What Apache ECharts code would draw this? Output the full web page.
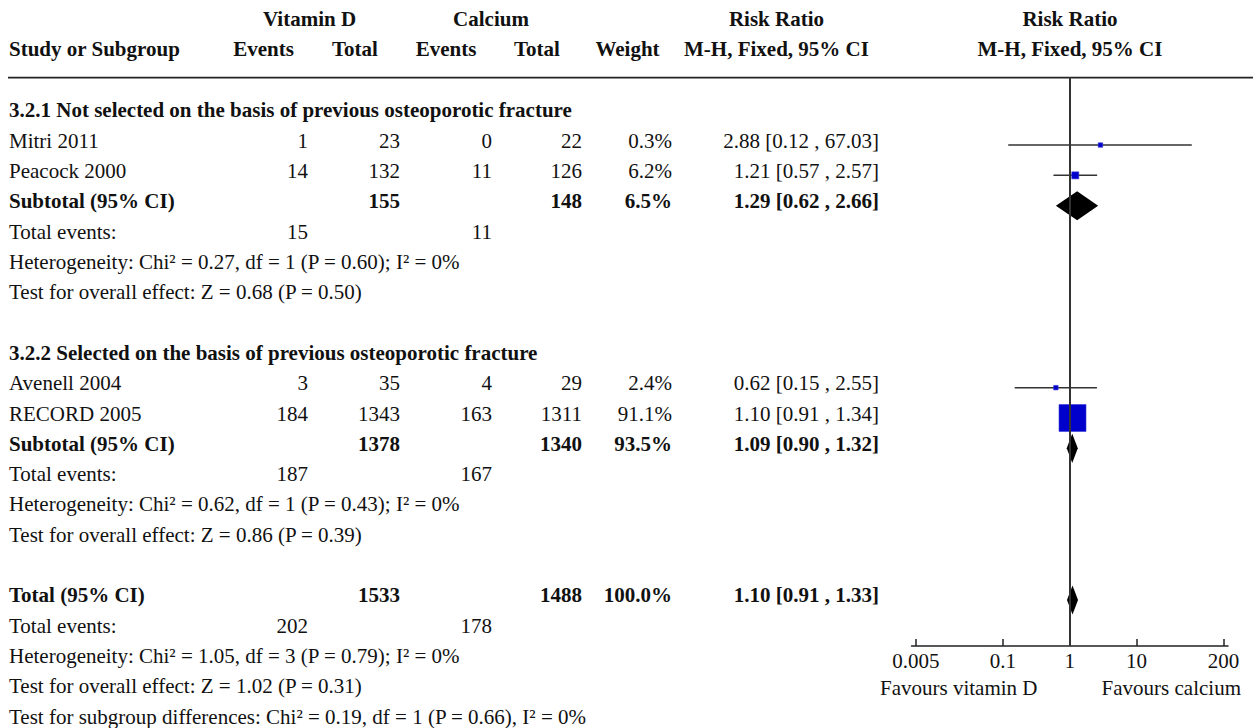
<!DOCTYPE html>
<html>
<head>
<meta charset="utf-8">
<script src="https://cdn.jsdelivr.net/npm/echarts@6/dist/echarts.min.js"></script>
<style>
html,body{margin:0;padding:0;background:#fff;}
#c{width:1253px;height:728px;}
</style>
</head>
<body>
<div id="c"></div>
<script>
// ---------------- data ----------------
const studyNames   = ['Mitri 2011', 'Peacock 2000', 'Avenell 2004', 'RECORD 2005'];
const studyGroup   = [1, 1, 2, 2];
const vitDEvents   = [1, 14, 3, 184];
const vitDTotal    = [23, 132, 35, 1343];
const calcEvents   = [0, 11, 4, 163];
const calcTotal    = [22, 126, 29, 1311];
const studyWeight  = [0.3, 6.2, 2.4, 91.1];
const studyRR      = [2.88, 1.21, 0.62, 1.10];
const studyLo      = [0.12, 0.57, 0.15, 0.91];
const studyHi      = [67.03, 2.57, 2.55, 1.34];

const groupTitles  = ['3.2.1 Not selected on the basis of previous osteoporotic fracture',
                      '3.2.2 Selected on the basis of previous osteoporotic fracture'];
const subVitDTotal = [155, 1378];
const subCalcTotal = [148, 1340];
const subWeight    = ['6.5%', '93.5%'];
const subRR        = [1.29, 1.09];
const subLo        = [0.62, 0.90];
const subHi        = [2.66, 1.32];
const subVitDEv    = [15, 187];
const subCalcEv    = [11, 167];
const subHet       = ['Heterogeneity: Chi² = 0.27, df = 1 (P = 0.60); I² = 0%',
                      'Heterogeneity: Chi² = 0.62, df = 1 (P = 0.43); I² = 0%'];
const subTest      = ['Test for overall effect: Z = 0.68 (P = 0.50)',
                      'Test for overall effect: Z = 0.86 (P = 0.39)'];

const totVitDTotal = 1533, totCalcTotal = 1488, totWeight = '100.0%';
const totRR = 1.10, totLo = 0.91, totHi = 1.33;
const totVitDEv = 202, totCalcEv = 178;
const totHet   = 'Heterogeneity: Chi² = 1.05, df = 3 (P = 0.79); I² = 0%';
const totTest  = 'Test for overall effect: Z = 1.02 (P = 0.31)';
const totSubgr = 'Test for subgroup differences: Chi² = 0.19, df = 1 (P = 0.66), I² = 0%';

const tickValues = [0.005, 0.1, 1, 10, 200];
const tickLabels = ['0.005', '0.1', '1', '10', '200'];
const favoursLeft = 'Favours vitamin D', favoursRight = 'Favours calcium';

// ---------------- layout ----------------
const FONT = '"Liberation Serif", "Times New Roman", serif';
const FS = 21;
const ROW0 = 114.7, ROWH = 30.33, TXT_OFF = -4.5;
const colX = { name: 9, vdE: 308, vdT: 400, caE: 492, caT: 582, wt: 672, rr: 879 };
const TEXT_COLOR = '#111';

const graphics = [];
function txt(text, x, y, align, bold) {
  graphics.push({
    type: 'text', silent: true,
    style: {
      text: String(text), x: x, y: y,
      font: (bold ? 'bold ' : '') + FS + 'px ' + FONT,
      fill: TEXT_COLOR, textAlign: align || 'left', textVerticalAlign: 'middle'
    }
  });
}
function rowY(i) { return ROW0 + ROWH * i + TXT_OFF; }
const fmt2 = v => v.toFixed(2);
const ciText = (rr, lo, hi) => fmt2(rr) + ' [' + fmt2(lo) + ' , ' + fmt2(hi) + ']';

// headers
txt('Vitamin D', 309.5, 19, 'center', true);
txt('Calcium', 491, 19, 'center', true);
txt('Risk Ratio', 776.5, 19, 'center', true);
txt('Risk Ratio', 1070, 19, 'center', true);
txt('Study or Subgroup', 9, 49, 'left', true);
txt('Events', 263.5, 49, 'center', true);
txt('Total', 355, 49, 'center', true);
txt('Events', 446, 49, 'center', true);
txt('Total', 537, 49, 'center', true);
txt('Weight', 627.5, 49, 'center', true);
txt('M-H, Fixed, 95% CI', 776.5, 49, 'center', true);
txt('M-H, Fixed, 95% CI', 1070, 49, 'center', true);
graphics.push({
  type: 'line', silent: true,
  shape: { x1: 8, y1: 77.7, x2: 1253, y2: 77.7 },
  style: { stroke: '#222', lineWidth: 1.8 }
});

// body rows + forest data
const forestData = [];  // [lo, hi, est, row, weight, kind]
const maxW = Math.max.apply(null, studyWeight);
let r = 0;
for (let g = 0; g < 2; g++) {
  txt(groupTitles[g], 9, rowY(r), 'left', true); r++;
  for (let s = 0; s < studyNames.length; s++) {
    if (studyGroup[s] !== g + 1) continue;
    const y = rowY(r);
    txt(studyNames[s], colX.name, y, 'left');
    txt(vitDEvents[s], colX.vdE, y, 'right');
    txt(vitDTotal[s], colX.vdT, y, 'right');
    txt(calcEvents[s], colX.caE, y, 'right');
    txt(calcTotal[s], colX.caT, y, 'right');
    txt(studyWeight[s].toFixed(1) + '%', colX.wt, y, 'right');
    txt(ciText(studyRR[s], studyLo[s], studyHi[s]), colX.rr, y, 'right');
    forestData.push([Math.log10(studyLo[s]), Math.log10(studyHi[s]), Math.log10(studyRR[s]), r, studyWeight[s], 0]);
    r++;
  }
  let y = rowY(r);
  txt('Subtotal (95% CI)', colX.name, y, 'left', true);
  txt(subVitDTotal[g], colX.vdT, y, 'right', true);
  txt(subCalcTotal[g], colX.caT, y, 'right', true);
  txt(subWeight[g], colX.wt, y, 'right', true);
  txt(ciText(subRR[g], subLo[g], subHi[g]), colX.rr, y, 'right', true);
  forestData.push([Math.log10(subLo[g]), Math.log10(subHi[g]), Math.log10(subRR[g]), r, 0, 1]);
  r++;
  y = rowY(r);
  txt('Total events:', colX.name, y, 'left');
  txt(subVitDEv[g], colX.vdE, y, 'right');
  txt(subCalcEv[g], colX.caE, y, 'right');
  r++;
  txt(subHet[g], colX.name, rowY(r), 'left'); r++;
  txt(subTest[g], colX.name, rowY(r), 'left'); r++;
  r++; // blank row
}
{
  let y = rowY(r);
  txt('Total (95% CI)', colX.name, y, 'left', true);
  txt(totVitDTotal, colX.vdT, y, 'right', true);
  txt(totCalcTotal, colX.caT, y, 'right', true);
  txt(totWeight, colX.wt, y, 'right', true);
  txt(ciText(totRR, totLo, totHi), colX.rr, y, 'right', true);
  forestData.push([Math.log10(totLo), Math.log10(totHi), Math.log10(totRR), r, 0, 1]);
  r++;
  y = rowY(r);
  txt('Total events:', colX.name, y, 'left');
  txt(totVitDEv, colX.vdE, y, 'right');
  txt(totCalcEv, colX.caE, y, 'right');
  r++;
  txt(totHet, colX.name, rowY(r), 'left'); r++;
  txt(totTest, colX.name, rowY(r), 'left');
  txt(favoursLeft, 880, rowY(r) + 1.5, 'left');
  txt(favoursRight, 1241, rowY(r) + 1.5, 'right');
  r++;
  txt(totSubgr, colX.name, rowY(r), 'left'); r++;
}

// ---------------- chart ----------------
const PAD = 0.067;
const xMin = Math.log10(tickValues[0]) - PAD;
const xMax = Math.log10(tickValues[tickValues.length - 1]) + PAD;
const GRID_TOP = 77, GRID_BOTTOM_Y = 646;
const yMin = -(ROW0 - GRID_TOP) / ROWH;
const yMax = yMin + (GRID_BOTTOM_Y - GRID_TOP) / ROWH;
const tickLog = tickValues.map(v => Math.log10(v));

const chart = echarts.init(document.getElementById('c'), null, { renderer: 'svg', width: 1253, height: 728 });
chart.setOption({
  backgroundColor: '#fff',
  animation: false,
  grid: { left: 911.5, width: 316.5, top: GRID_TOP, height: GRID_BOTTOM_Y - GRID_TOP, containLabel: false },
  xAxis: {
    type: 'value', min: xMin, max: xMax, position: 'bottom',
    splitLine: { show: false },
    axisLine: { show: true, onZero: false, lineStyle: { color: '#222', width: 1.5 } },
    axisTick: { show: true, inside: true, length: 7, customValues: tickLog, lineStyle: { color: '#222', width: 1.5 } },
    axisLabel: {
      show: true, customValues: tickLog, margin: 4,
      color: TEXT_COLOR, fontFamily: FONT, fontSize: FS,
      formatter: function (v) {
        for (let i = 0; i < tickLog.length; i++) if (Math.abs(tickLog[i] - v) < 1e-6) return tickLabels[i];
        return '';
      }
    }
  },
  yAxis: { type: 'value', inverse: true, min: yMin, max: yMax, show: false, splitLine: { show: false },
           axisLine: { onZero: false } },
  graphic: { elements: graphics },
  series: [{
    type: 'custom',
    silent: true,
    data: forestData,
    encode: { x: [0, 1, 2], y: 3 },
    clip: false,
    renderItem: function (params, api) {
      const lo = api.value(0), hi = api.value(1), est = api.value(2), row = api.value(3), w = api.value(4), kind = api.value(5);
      const pLo = api.coord([lo, row]), pHi = api.coord([hi, row]), pE = api.coord([est, row]);
      const rowPx = api.size([0, 1])[1];
      if (kind === 0) {
        const s = Math.max(4.5, rowPx * 0.89 * Math.sqrt(w / maxW));
        return {
          type: 'group',
          children: [
            { type: 'line', shape: { x1: pLo[0], y1: pLo[1], x2: pHi[0], y2: pHi[1] }, style: { stroke: '#333', lineWidth: 1.5 } },
            { type: 'rect', shape: { x: pE[0] - s / 2, y: pE[1] - s / 2, width: s, height: s }, style: { fill: '#0000cc', stroke: '#3a3ad8', lineWidth: 0.6 } }
          ]
        };
      }
      const h = rowPx * 0.48;
      return {
        type: 'polygon',
        shape: { points: [[pLo[0], pE[1]], [pE[0], pE[1] - h], [pHi[0], pE[1]], [pE[0], pE[1] + h]] },
        style: { fill: '#000' }
      };
    },
    markLine: {
      silent: true, symbol: 'none', animation: false,
      label: { show: false },
      lineStyle: { color: '#333', width: 2, type: 'solid' },
      data: [{ xAxis: 0 }]
    }
  }]
});
</script>
</body>
</html>
